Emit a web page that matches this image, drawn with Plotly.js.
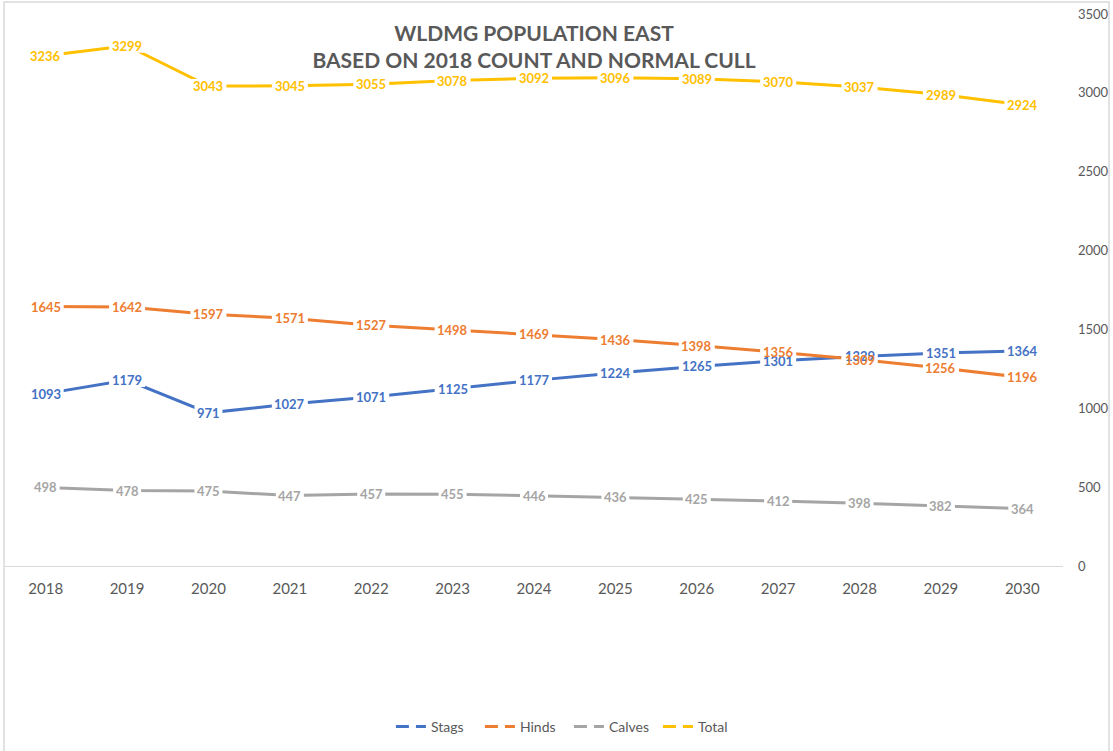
<!DOCTYPE html>
<html>
<head>
<meta charset="utf-8">
<script src="https://cdn.plot.ly/plotly-3.0.1.min.js"></script>
<style>
  html, body { margin: 0; padding: 0; background: #fff; }
  #chart { width: 1113px; height: 751px; }
</style>
</head>
<body>
<div id="chart"></div>
<script>
const years = ["2018","2019","2020","2021","2022","2023","2024","2025","2026","2027","2028","2029","2030"];
const stags  = [1093, 1179, 971, 1027, 1071, 1125, 1177, 1224, 1265, 1301, 1329, 1351, 1364];
const hinds  = [1645, 1642, 1597, 1571, 1527, 1498, 1469, 1436, 1398, 1356, 1309, 1256, 1196];
const calves = [498, 478, 475, 447, 457, 455, 446, 436, 425, 412, 398, 382, 364];
const total  = [3236, 3299, 3043, 3045, 3055, 3078, 3092, 3096, 3089, 3070, 3037, 2989, 2924];
const yTicks = [0, 500, 1000, 1500, 2000, 2500, 3000, 3500];

const FONT = "Lato, 'Open Sans', sans-serif";
const series = [
  {name: "Stags",  y: stags,  color: "#4472C4"},
  {name: "Hinds",  y: hinds,  color: "#ED7D31"},
  {name: "Calves", y: calves, color: "#A5A5A5"},
  {name: "Total",  y: total,  color: "#FFC000"}
];

const traces = [];
series.forEach(s => {
  traces.push({
    type: "scatter", mode: "lines", x: years, y: s.y, name: s.name,
    line: {color: s.color, width: 3}, showlegend: false, hoverinfo: "x+y+name"
  });
});
series.forEach(s => {
  traces.push({
    type: "scatter", mode: "lines", x: [null], y: [null], name: s.name,
    line: {color: s.color, width: 3, dash: "13px,7px"}, showlegend: true, hoverinfo: "skip"
  });
});

// white gaps in the lines behind each data label, then the labels themselves (no background)
const shapes = [];
const annotations = [];
series.forEach(s => {
  s.y.forEach((v, i) => {
    const half = String(v).length * 4 + 2;
    shapes.push({
      type: "rect", layer: "above", xref: "x", yref: "y",
      xsizemode: "pixel", ysizemode: "pixel", xanchor: i, yanchor: v,
      x0: -half, x1: half, y0: -7, y1: 7,
      fillcolor: "#ffffff", line: {width: 0}
    });
  });
});
series.forEach(s => {
  s.y.forEach((v, i) => {
    annotations.push({
      x: i, y: v, xref: "x", yref: "y", text: String(v),
      showarrow: false, xanchor: "center", yanchor: "middle",
      font: {family: FONT, size: 13, color: s.color, weight: "bold"}
    });
  });
});

shapes.push({
  type: "path", xref: "paper", yref: "paper",
  path: "M -0.0009,-0.335 L -0.0009,1.0217 L 1.0435,1.0217 L 1.0435,-0.335",
  line: {color: "#D9D9D9", width: 1.5}
});

const layout = {
  width: 1113, height: 751,
  margin: {l: 5, r: 50, t: 14, b: 185},
  paper_bgcolor: "#ffffff", plot_bgcolor: "#ffffff",
  font: {family: FONT, color: "#595959"},
  title: {
    text: "WLDMG POPULATION EAST<br>BASED ON 2018 COUNT AND NORMAL CULL",
    font: {family: FONT, size: 21, color: "#595959", weight: "bold"},
    x: 0.5, xanchor: "center", xref: "paper",
    y: 1 - 40.5/751, yanchor: "middle", yref: "container"
  },
  xaxis: {
    type: "category", range: [-0.5, 12.5], showgrid: false, zeroline: false,
    showline: true, linecolor: "#D9D9D9", linewidth: 1, ticks: "",
    tickfont: {family: FONT, size: 15, color: "#595959"}, ticklabelstandoff: 9,
    fixedrange: true
  },
  yaxis: {
    side: "right", range: [0, 3500], tickvals: yTicks, ticktext: yTicks.map(String),
    showgrid: false, zeroline: false, showline: false, ticks: "",
    tickfont: {family: FONT, size: 13, color: "#595959"}, ticklabelstandoff: 14,
    fixedrange: true
  },
  legend: {
    orientation: "h", x: 0.533, xanchor: "center", y: -0.2917, yanchor: "middle",
    font: {family: FONT, size: 14, color: "#595959"}, itemwidth: 30,
    entrywidth: 44, entrywidthmode: "pixels", tracegroupgap: 0
  },
  annotations: annotations,
  shapes: shapes,
  showlegend: true
};

Plotly.newPlot("chart", traces, layout, {displayModeBar: false, staticPlot: true});
</script>
</body>
</html>
